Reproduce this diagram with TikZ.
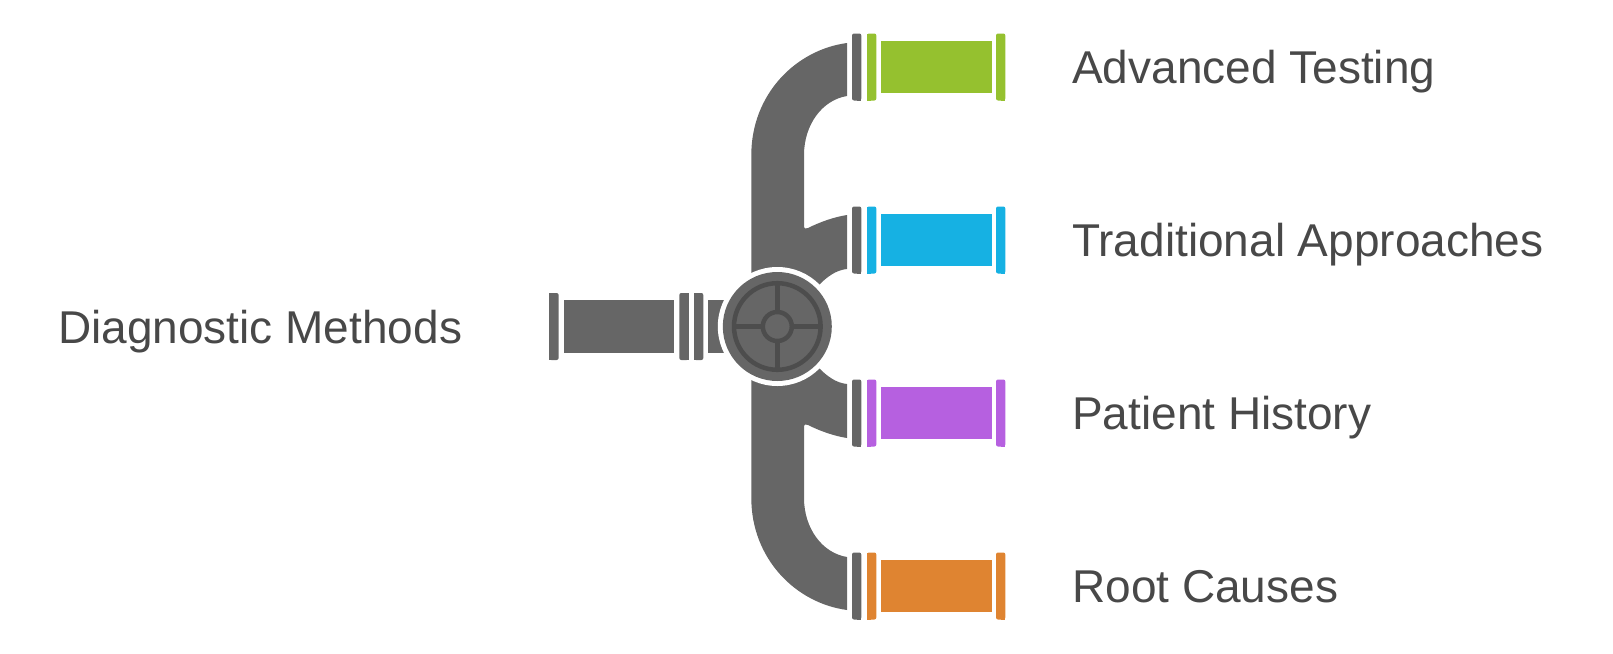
\documentclass[tikz,border=0pt]{standalone}
\usepackage{fontspec}
\setmainfont{Liberation Sans}
\definecolor{pipe}{HTML}{666666}
\definecolor{dk}{HTML}{4D4D4D}
\definecolor{txt}{HTML}{484848}
\definecolor{cA}{HTML}{95C12F}
\definecolor{cB}{HTML}{16B1E3}
\definecolor{cC}{HTML}{B660E0}
\definecolor{cD}{HTML}{DF8431}
\tikzset{
  lab/.style={anchor=base west,inner sep=0pt,text=txt,font=\fontsize{46}{46}\selectfont},
}
% flange with rounded corners on one side: #1 colour, #2 left x, #3 centre y, #4 side
\newcommand{\flangeR}[3]{\fill[#1,rounded corners=2pt] (#2,#3-33.5) -- ++(9.3,0) -- ++(0,67) -- ++(-9.3,0) -- cycle; \fill[#1] (#2,#3-33.5) rectangle ++(4,67);}
\newcommand{\flangeL}[3]{\fill[#1,rounded corners=2pt] (#2,#3-33.5) -- ++(9.3,0) -- ++(0,67) -- ++(-9.3,0) -- cycle; \fill[#1] (#2+5.3,#3-33.5) rectangle ++(4,67);}
\newcommand{\branch}[2]{%
  \flangeL{pipe}{852}{#1}
  \flangeR{#2}{867}{#1}
  \fill[#2] (881,#1-26.3) rectangle (992,#1+26.3);
  \flangeL{#2}{996}{#1}
}
\begin{document}
\begin{tikzpicture}[x=1pt,y=-1pt]
\useasboundingbox (0,0) rectangle (1613,653);
% pipes
\fill[pipe] (751.3,326) -- (751.3,155) .. controls (751.3,95) and (795,50) .. (847,43) -- (847,96)
  .. controls (822,100) and (804,125) .. (804,155) -- (804,226) .. controls (804,229) and (806,229) .. (808,228)
  .. controls (820,222) and (834,217) .. (847,215) -- (847,269) .. controls (836,270) and (827,277) .. (820,284) -- (777,326) -- cycle;
\fill[pipe] (751.3,327) -- (751.3,498) .. controls (751.3,558) and (795,603) .. (847,610) -- (847,557)
  .. controls (822,553) and (804,528) .. (804,498) -- (804,427) .. controls (804,424) and (806,424) .. (808,425)
  .. controls (820,431) and (834,436) .. (847,438) -- (847,384) .. controls (836,383) and (827,376) .. (820,369) -- (777,327) -- cycle;
% branches
\branch{67}{cA}
\branch{240}{cB}
\branch{413}{cC}
\branch{586}{cD}
% input pipe
\flangeR{pipe}{549.3}{326.5}
\fill[pipe] (564,300) rectangle (674.3,352.6);
\flangeL{pipe}{679.3}{326.5}
\flangeR{pipe}{694}{326.5}
\fill[pipe] (708,300) rectangle (735,352.6);
% valve
\fill[white] (777.3,326.5) circle (59.5);
\fill[pipe] (777.3,326.5) circle (54.5);
\draw[dk,line width=4.5pt] (777.3,326.5) circle (43.3);
\draw[dk,line width=4.5pt] (777.3,326.5) circle (14.5);
\draw[dk,line width=4.5pt] (777.3,283.2) -- (777.3,312) (777.3,341) -- (777.3,369.8)
  (734,326.5) -- (762.8,326.5) (791.8,326.5) -- (820.6,326.5);
% labels
\node[lab] (t0) at (58,343) {Diagnostic Methods};
\node[lab] (t1) at (1072,83) {Advanced Testing};
\node[lab] (t2) at (1072,256) {Traditional Approaches};
\node[lab] (t3) at (1072,429) {Patient History};
\node[lab] (t4) at (1072,602) {Root Causes};
\end{tikzpicture}
\end{document}
